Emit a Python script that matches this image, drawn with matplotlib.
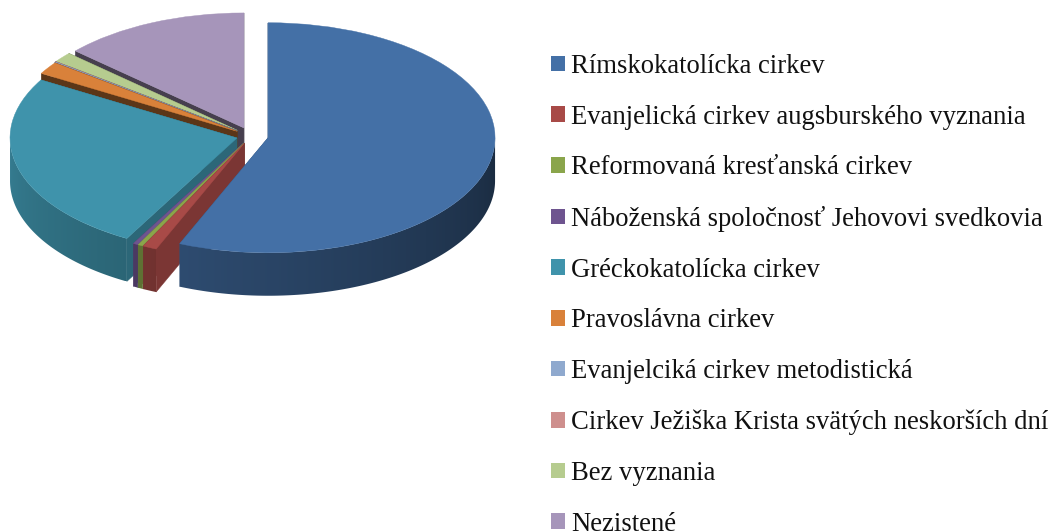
import numpy as np
import matplotlib
matplotlib.use('Agg')
import matplotlib.pyplot as plt
from matplotlib.colors import to_rgb
from matplotlib.patches import Polygon, Rectangle

labels = ['Rímskokatolícka cirkev', 'Evanjelická cirkev augsburského vyznania',
          'Reformovaná kresťanská cirkev', 'Náboženská spoločnosť Jehovovi svedkovia',
          'Gréckokatolícka cirkev', 'Pravoslávna cirkev', 'Evanjelciká cirkev metodistická',
          'Cirkev Ježiška Krista svätých neskorších dní', 'Bez vyznania', 'Nezistené']
values = [56.25, 1.0, 0.35, 0.35, 25.3, 1.75, 0.05, 0.05, 1.4, 13.3]
colors = ['#4470A6', '#A84A47', '#8AA54B', '#6E548F', '#3F93AB',
          '#D9813A', '#8FA9CE', '#CE8F8D', '#B6CC8F', '#A695BA']

# okreslenie pozicii v pikseloch
W, H = 1051, 532
CX, CY, RX, RY = 251, 136, 227, 115
DEPTH = 43 / RY
explode_px = [17.4, 15.5, 15.5, 15.5, 14.5, 16.5, 17.4, 17.4, 17.4, 17.4]
cut_shade = [0.7, 0.73, 0.72, 0.72, 0.7, 0.42, 0.5, 0.5, 0.45, 0.42]
draw_order = [9, 8, 7, 6, 5, 4, 3, 2, 1, 0]

plt.rcParams['font.family'] = ['Liberation Serif', 'DejaVu Serif']
fig = plt.figure(figsize=(W / 100, H / 100), dpi=100)
ax = fig.add_axes([0, 0, 1, 1])

wedges, _ = ax.pie(values, colors=colors, startangle=90, counterclock=False,
                   explode=[e / RX for e in explode_px], radius=1,
                   wedgeprops=dict(linewidth=0.3))
for w, c in zip(wedges, colors):
    w.set_edgecolor(c)


def shade(c, f):
    return tuple(np.array(to_rgb(c)) * f)


def side_walls(i, z):
    w = wedges[i]
    cx, cy = w.center
    c = colors[i]
    # sciany ciecia
    for th in (w.theta1, w.theta2):
        px = cx + np.cos(np.radians(th))
        py = cy + np.sin(np.radians(th))
        ax.add_patch(Polygon([(cx, cy), (px, py), (px, py - DEPTH), (cx, cy - DEPTH)],
                             closed=True, fc=shade(c, cut_shade[i]), ec=shade(c, cut_shade[i]),
                             lw=0.3, zorder=z))
    # zewnetrzna sciana z gradientem (obrazek przyciety do sciany)
    ts = np.linspace(w.theta1, w.theta2, 400)
    ts = ts[np.sin(np.radians(ts)) <= 0]
    if len(ts) < 2:
        return
    xs = cx + np.cos(np.radians(ts))
    ys = cy + np.sin(np.radians(ts))
    order = np.argsort(xs)
    col_x = np.linspace(xs.min(), xs.max(), 300)
    col_t = np.interp(col_x, xs[order], ts[order])
    col_t = (col_t + 180) % 360 - 180
    f = 0.38 + 0.47 * np.abs(col_t) / 180
    img = (np.array(to_rgb(c))[None, None, :] * f[None, :, None])
    im = ax.imshow(img, extent=(xs.min(), xs.max(), ys.min() - DEPTH, ys.max()),
                   aspect='auto', zorder=z + 0.1, interpolation='bilinear')
    poly = Polygon(np.vstack([np.c_[xs, ys], np.c_[xs[::-1], ys[::-1] - DEPTH]]),
                   closed=True, transform=ax.transData, fc='none', ec='none')
    im.set_clip_path(poly)


for n, i in enumerate(draw_order):
    side_walls(i, 2 + n)
    wedges[i].set_zorder(2.5 + n)

ax.set_aspect('auto')
ax.set_xlim(-CX / RX, (W - CX) / RX)
ax.set_ylim((CY - H) / RY, CY / RY)
ax.axis('off')

handles = [Rectangle((0, 0), 1, 1, fc=c, ec='none') for c in colors]
ax.legend(handles, labels, loc='upper left', bbox_to_anchor=(551 / W, 1 - 54 / H),
          frameon=False, fontsize=19.2, handlelength=0.525, handleheight=0.525,
          handletextpad=0.22, labelspacing=0.963, borderaxespad=0, borderpad=0,
          labelcolor='#111111')

fig.savefig('out.png', dpi=100)
